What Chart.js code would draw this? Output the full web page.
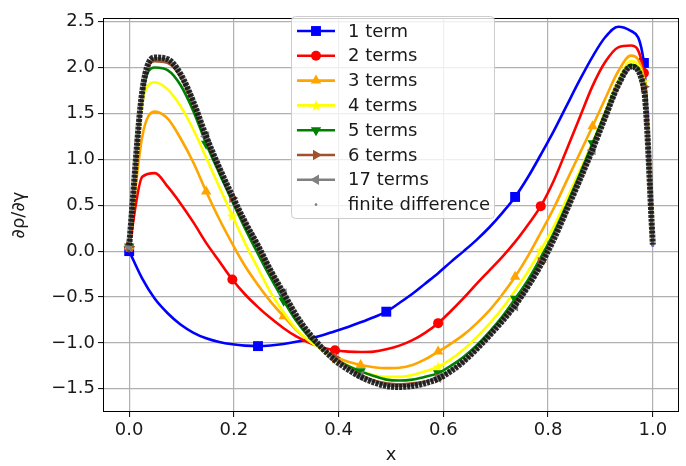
<!DOCTYPE html>
<html>
<head>
<meta charset="utf-8">
<script src="https://cdn.jsdelivr.net/npm/chart.js@4.4.0/dist/chart.umd.min.js"></script>
<style>
  html, body { margin: 0; padding: 0; background: #fff; }
  #wrap { width: 686px; height: 466px; }
</style>
</head>
<body>
<div id="wrap"><canvas id="chart" width="686" height="466"></canvas></div>
<script>
// --- data ---
const xValues = [0, 0.025, 0.049, 0.074, 0.098, 0.123, 0.147, 0.172, 0.197, 0.221,
  0.246, 0.270, 0.295, 0.319, 0.344, 0.369, 0.393, 0.418, 0.442, 0.467,
  0.491, 0.516, 0.541, 0.565, 0.590, 0.614, 0.639, 0.663, 0.688, 0.713,
  0.737, 0.762, 0.786, 0.811, 0.835, 0.860, 0.885, 0.909, 0.934, 0.958,
  0.983, 1.0];

const term1 = [0.00, -0.30, -0.52, -0.68, -0.80, -0.89, -0.95, -0.99, -1.015, -1.03,
  -1.035, -1.028, -1.012, -0.988, -0.957, -0.918, -0.872, -0.826, -0.776, -0.72,
  -0.66, -0.565, -0.465, -0.355, -0.24, -0.12, 0.00, 0.12, 0.26, 0.42,
  0.59, 0.81, 1.05, 1.31, 1.58, 1.86, 2.12, 2.33, 2.445, 2.40,
  2.05, 0.05];
const terms2 = [0.04, 0.81, 0.85, 0.70, 0.52, 0.31, 0.09, -0.11, -0.31, -0.47,
  -0.61, -0.73, -0.84, -0.93, -1.00, -1.05, -1.08, -1.095, -1.10, -1.095,
  -1.07, -1.03, -0.97, -0.89, -0.785, -0.655, -0.51, -0.36, -0.21, -0.06,
  0.10, 0.29, 0.49, 0.77, 1.10, 1.45, 1.80, 2.06, 2.22, 2.24,
  1.94, 0.06];
const terms3 = [0.05, 1.25, 1.52, 1.44, 1.23, 0.96, 0.65, 0.35, 0.08, -0.16,
  -0.37, -0.55, -0.71, -0.86, -0.98, -1.07, -1.15, -1.205, -1.24, -1.265,
  -1.275, -1.27, -1.24, -1.18, -1.095, -1.01, -0.91, -0.79, -0.645, -0.47,
  -0.28, -0.05, 0.20, 0.47, 0.76, 1.06, 1.36, 1.66, 1.96, 2.13,
  1.88, 0.06];
const terms4 = [0.05, 1.62, 1.84, 1.76, 1.58, 1.32, 1.02, 0.70, 0.385, 0.09,
  -0.19, -0.45, -0.67, -0.85, -0.98, -1.08, -1.17, -1.25, -1.31, -1.35,
  -1.37, -1.37, -1.35, -1.31, -1.26, -1.18, -1.07, -0.94, -0.79, -0.62,
  -0.43, -0.22, 0.01, 0.27, 0.56, 0.87, 1.19, 1.52, 1.86, 2.07,
  1.85, 0.06];
const terms5 = [0.05, 1.70, 2.00, 1.97, 1.81, 1.52, 1.17, 0.85, 0.54, 0.25,
  -0.03, -0.29, -0.54, -0.76, -0.94, -1.07, -1.17, -1.25, -1.31, -1.36,
  -1.40, -1.41, -1.40, -1.37, -1.33, -1.25, -1.15, -1.03, -0.88, -0.71,
  -0.52, -0.31, -0.07, 0.20, 0.50, 0.83, 1.175, 1.50, 1.82, 2.03,
  1.80, 0.06];
const terms6 = [0.05, 1.72, 2.07, 2.05, 1.90, 1.60, 1.23, 0.90, 0.58, 0.31,
  0.04, -0.23, -0.48, -0.71, -0.91, -1.06, -1.16, -1.27, -1.35, -1.41,
  -1.44, -1.45, -1.44, -1.42, -1.385, -1.30, -1.20, -1.07, -0.92, -0.75,
  -0.57, -0.36, -0.12, 0.15, 0.45, 0.78, 1.11, 1.45, 1.79, 2.00,
  1.79, 0.06];
const terms17 = [0.05, 1.72, 2.10, 2.08, 1.93, 1.63, 1.25, 0.92, 0.60, 0.33,
  0.07, -0.20, -0.46, -0.70, -0.90, -1.06, -1.18, -1.28, -1.36, -1.42,
  -1.46, -1.47, -1.46, -1.43, -1.38, -1.30, -1.20, -1.07, -0.92, -0.76,
  -0.60, -0.39, -0.15, 0.13, 0.43, 0.76, 1.10, 1.45, 1.80, 2.00,
  1.78, 0.06];
const finiteDiff = [0.06, 1.74, 2.11, 2.09, 1.93, 1.62, 1.25, 0.91, 0.60, 0.32,
  0.06, -0.21, -0.46, -0.70, -0.90, -1.06, -1.19, -1.29, -1.37, -1.43,
  -1.47, -1.48, -1.47, -1.44, -1.39, -1.31, -1.20, -1.07, -0.92, -0.76,
  -0.59, -0.38, -0.15, 0.13, 0.44, 0.77, 1.11, 1.46, 1.81, 2.01,
  1.77, 0.07];

const xTicks = [0, 0.2, 0.4, 0.6, 0.8, 1.0];
const yTicks = [-1.5, -1.0, -0.5, 0, 0.5, 1.0, 1.5, 2.0, 2.5];

const FONT = 'DejaVu Sans';

// filled 5-point star, like matplotlib '*'
function makeStar(color, r) {
    const c = document.createElement('canvas');
    const s = Math.ceil(r * 2 + 2);
    c.width = s; c.height = s;
    const g = c.getContext('2d');
    g.translate(s / 2, s / 2 + 0.5);
    g.beginPath();
    for (let k = 0; k < 10; k++) {
        const rr = k % 2 === 0 ? r : r * 0.42;
        const a = -Math.PI / 2 + k * Math.PI / 5;
        g.lineTo(rr * Math.cos(a), rr * Math.sin(a));
    }
    g.closePath();
    g.fillStyle = color;
    g.fill();
    return c;
}

const series = [
    { label: '1 term',   values: term1,   color: '#0000ff', style: 'rect',     rot: 0,   radius: 7, every: 10 },
    { label: '2 terms',  values: terms2,  color: '#ff0000', style: 'circle',   rot: 0,   radius: 5, every: 8 },
    { label: '3 terms',  values: terms3,  color: '#ffa500', style: 'triangle', rot: 0,   radius: 6, every: 6 },
    { label: '4 terms',  values: terms4,  color: '#ffff00', style: makeStar('#ffff00', 6), rot: 0, radius: 5, every: 8 },
    { label: '5 terms',  values: terms5,  color: '#008000', style: 'triangle', rot: 180, radius: 6, every: 6 },
    { label: '6 terms',  values: terms6,  color: '#a0522d', style: 'triangle', rot: 90,  radius: 6, every: 8 },
    { label: '17 terms', values: terms17, color: '#808080', style: 'triangle', rot: 270, radius: 6, every: 6 }
];

const n = xValues.length;
const datasets = series.map((s, k) => ({
    label: s.label,
    data: s.values.map((v, i) => ({ x: xValues[i], y: v })),
    borderColor: s.color,
    backgroundColor: s.color,
    borderWidth: 2.6,
    pointStyle: s.style,
    pointRotation: s.rot,
    pointRadius: s.values.map((v, i) => (i % s.every === 0 && i < n - 1) ? s.radius : 0),
    pointBorderWidth: 0,
    pointBackgroundColor: s.color,
    cubicInterpolationMode: 'monotone',
    order: 10 - k
}));

datasets.push({
    label: 'finite difference',
    data: finiteDiff.map((v, i) => ({ x: xValues[i], y: v })),
    borderColor: 'rgba(20,20,20,0.9)',
    borderWidth: 6,
    borderDash: [3, 1],
    pointRadius: 0,
    cubicInterpolationMode: 'monotone',
    order: 0
});

const fmt = v => (Math.abs(v) < 1e-9 ? 0 : v).toFixed(1).replace('-', '\u2212');

// frame + matplotlib style legend
const mplLegend = {
    id: 'mplLegend',
    afterDatasetsDraw(chart) {
        const ctx = chart.ctx;
        const a = chart.chartArea;
        ctx.save();
        ctx.strokeStyle = '#000';
        ctx.lineWidth = 1;
        ctx.strokeRect(Math.round(a.left) + 0.5, Math.round(a.top) + 0.5,
            Math.round(a.right - a.left) - 1, Math.round(a.bottom - a.top) - 1);

        const bx = 291.5, by = 16.5, bw = 203, bh = 202, r = 4;
        ctx.beginPath();
        ctx.moveTo(bx + r, by);
        ctx.arcTo(bx + bw, by, bx + bw, by + bh, r);
        ctx.arcTo(bx + bw, by + bh, bx, by + bh, r);
        ctx.arcTo(bx, by + bh, bx, by, r);
        ctx.arcTo(bx, by, bx + bw, by, r);
        ctx.closePath();
        ctx.fillStyle = 'rgba(255,255,255,0.8)';
        ctx.fill();
        ctx.strokeStyle = '#cccccc';
        ctx.stroke();

        ctx.font = '18px "' + FONT + '"';
        ctx.textBaseline = 'middle';
        ctx.textAlign = 'left';
        const rows = series.length + 1;
        for (let k = 0; k < rows; k++) {
            const y = 31 + k * 24.8;
            if (k < series.length) {
                const s = series[k];
                ctx.strokeStyle = s.color;
                ctx.lineWidth = 2.6;
                ctx.setLineDash([]);
                ctx.beginPath();
                ctx.moveTo(297, y);
                ctx.lineTo(335, y);
                ctx.stroke();
                ctx.fillStyle = s.color;
                Chart.helpers.drawPoint(ctx, { pointStyle: s.style, rotation: s.rot, radius: s.radius, borderWidth: 0 }, 316, y);
                ctx.fillStyle = '#1a1a1a';
                ctx.fillText(s.label, 348, y + 1);
            } else {
                ctx.fillStyle = 'rgba(90,90,90,0.8)';
                ctx.beginPath();
                ctx.arc(316, y, 1.3, 0, Math.PI * 2);
                ctx.fill();
                ctx.fillStyle = '#1a1a1a';
                ctx.fillText('finite difference', 348, y + 1);
            }
        }
        ctx.restore();
    }
};

new Chart(document.getElementById('chart'), {
    type: 'line',
    data: { datasets },
    options: {
        responsive: false,
        animation: false,
        devicePixelRatio: 1,
        events: [],
        layout: { padding: { top: 18, right: 2, left: 0, bottom: 0 } },
        plugins: { legend: { display: false }, tooltip: { enabled: false } },
        scales: {
            x: {
                type: 'linear',
                min: -0.05, max: 1.05,
                afterBuildTicks: s => { s.ticks = xTicks.map(v => ({ value: v })); },
                afterFit: s => { s.height = 54; },
                border: { display: false },
                grid: { color: '#b0b0b0', lineWidth: 1.2, tickColor: '#000', tickLength: 5, tickWidth: 1 },
                ticks: { color: '#1a1a1a', font: { family: FONT, size: 18 }, padding: 3, maxRotation: 0, autoSkip: false, callback: v => fmt(v) },
                title: { display: true, text: 'x', color: '#1a1a1a', font: { family: FONT, size: 18 }, padding: { top: 0, bottom: 0 } }
            },
            y: {
                type: 'linear',
                min: -1.753, max: 2.54,
                afterBuildTicks: s => { s.ticks = yTicks.map(v => ({ value: v })); },
                afterFit: s => { s.width = 103; },
                border: { display: false },
                grid: { color: '#b0b0b0', lineWidth: 1.2, tickColor: '#000', tickLength: 5, tickWidth: 1 },
                ticks: { color: '#1a1a1a', font: { family: FONT, size: 18 }, padding: 3, autoSkip: false, callback: v => fmt(v) },
                title: { display: true, text: '\u2202\u03c1/\u2202\u03b3', color: '#1a1a1a', font: { family: FONT, size: 18 }, padding: { top: 9, bottom: 0 } }
            }
        }
    },
    plugins: [mplLegend]
});
</script>
</body>
</html>
